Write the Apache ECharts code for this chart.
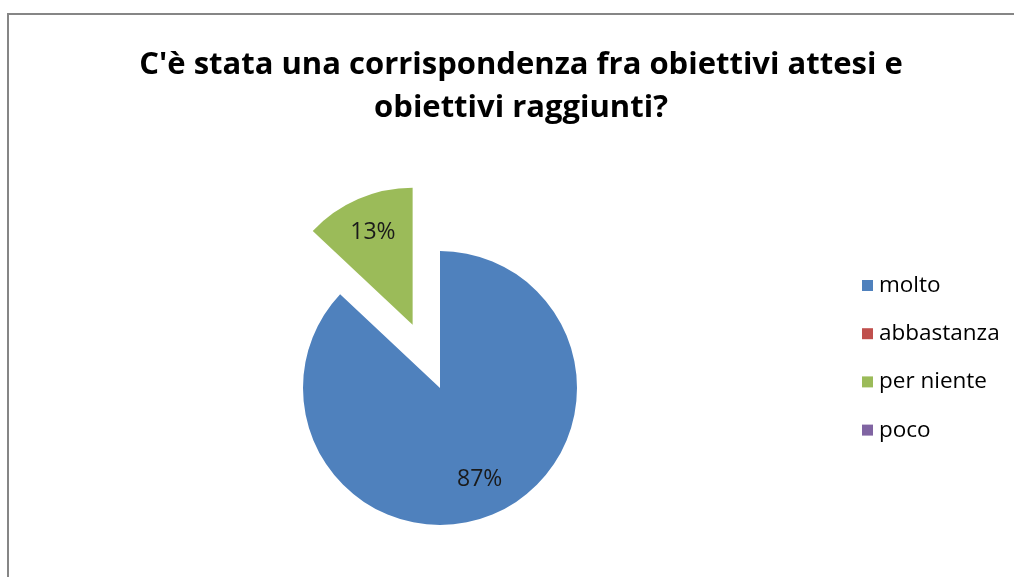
<!DOCTYPE html>
<html>
<head>
<meta charset="utf-8">
<script src="https://cdn.jsdelivr.net/npm/echarts@6/dist/echarts.min.js"></script>
<style>
html,body{margin:0;padding:0;background:#fff;}
#chart{width:1014px;height:577px;}
</style>
</head>
<body>
<div id="chart"></div>
<script>
const titleText = "C'è stata una corrispondenza fra obiettivi attesi e\nobiettivi raggiunti?";
const categories = ['molto', 'abbastanza', 'per niente', 'poco'];
const values = [87, 0, 13, 0];
const exploded = ['per niente'];
const colors = ['#4F81BD', '#C0504D', '#9BBB59', '#8064A2'];

const chart = echarts.init(document.getElementById('chart'));
const fontFam = '"Open Sans", "Noto Sans", sans-serif';
const center = [440, 388];
const R = 137;
const offset = 69;

function makeData() {
  return categories.map((c, i) => ({ name: c, value: values[i], selected: exploded.indexOf(c) >= 0 }));
}

chart.setOption({
  animation: false,
  color: colors,
  title: {
    text: titleText,
    left: 516,
    top: 39,
    textAlign: 'center',
    textStyle: { fontFamily: fontFam, fontSize: 31, fontWeight: 'bold', color: '#000', lineHeight: 43 }
  },
  legend: {
    orient: 'vertical',
    left: 857,
    top: 269,
    itemWidth: 11,
    itemHeight: 11,
    itemGap: 25.2,
    icon: 'rect',
    data: categories,
    selectedMode: false,
    textStyle: { fontFamily: fontFam, fontSize: 22.5, color: '#000', padding: [0, 0, 0, 1] }
  },
  graphic: [{
    type: 'rect',
    shape: { x: 8, y: 14, width: 1030, height: 600 },
    style: { fill: null, stroke: '#868686', lineWidth: 2 },
    silent: true
  }],
  series: [{
    type: 'pie',
    center: center,
    radius: [0, R],
    startAngle: 90,
    clockwise: true,
    selectedMode: 'single',
    selectedOffset: offset,
    avoidLabelOverlap: false,
    label: { show: false },
    labelLine: { show: false },
    emphasis: { disabled: true },
    itemStyle: { borderWidth: 0 },
    data: makeData()
  }, {
    type: 'pie',
    center: center,
    radius: [57, R],
    startAngle: 90,
    clockwise: true,
    silent: true,
    selectedMode: 'single',
    selectedOffset: offset,
    percentPrecision: 0,
    avoidLabelOverlap: false,
    itemStyle: { color: 'rgba(0,0,0,0)', borderWidth: 0 },
    emphasis: { disabled: true },
    label: {
      show: true,
      position: 'inside',
      fontFamily: fontFam,
      fontSize: 23,
      color: '#1a1a1a',
      formatter: p => p.value ? p.percent + '%' : ''
    },
    labelLine: { show: false },
    data: makeData()
  }]
});
</script>
</body>
</html>
